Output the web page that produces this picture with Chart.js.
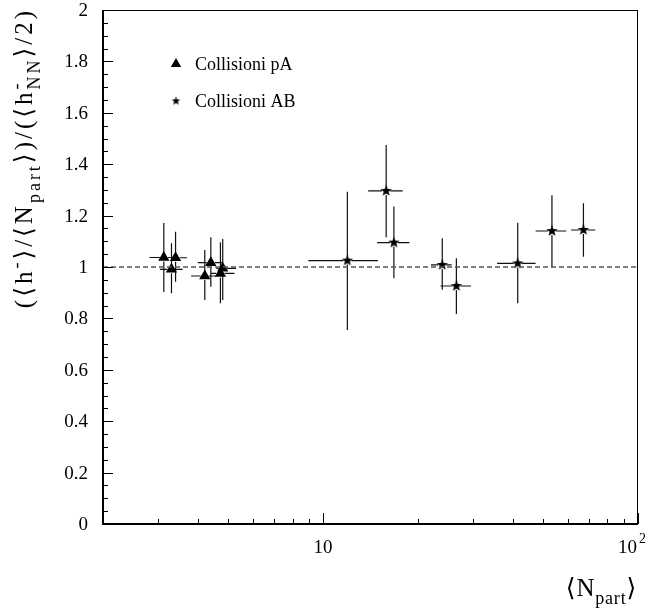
<!DOCTYPE html>
<html><head><meta charset="utf-8">
<script src="https://cdn.jsdelivr.net/npm/chart.js@4/dist/chart.umd.min.js"></script>
<style>html,body{margin:0;padding:0;background:#fff}canvas{display:block}</style>
</head><body>
<canvas id="c" width="657" height="610"></canvas>
<script>
// ---- data ----
const pA_x     = [3.12, 3.30, 3.40, 4.21, 4.40, 4.72, 4.80];
const pA_y     = [1.037, 0.991, 1.036, 0.965, 1.017, 0.975, 0.995];
const pA_yLow  = [0.903, 0.898, 0.943, 0.872, 0.923, 0.859, 0.872];
const pA_yHigh = [1.171, 1.092, 1.137, 1.066, 1.116, 1.096, 1.109];
const pA_xLow  = [2.81, 3.03, 3.29, 3.81, 4.00, 4.41, 4.58];
const pA_xHigh = [3.28, 3.58, 3.70, 4.58, 4.80, 5.23, 5.29];

const AB_x     = [11.94, 15.86, 16.78, 23.9, 26.5, 41.5, 53.3, 67.1];
const AB_y     = [1.025, 1.296, 1.095, 1.008, 0.926, 1.014, 1.140, 1.144];
const AB_yLow  = [0.755, 1.116, 0.956, 0.911, 0.817, 0.859, 0.999, 1.040];
const AB_yHigh = [1.293, 1.475, 1.235, 1.112, 1.034, 1.172, 1.279, 1.248];
const AB_xLow  = [8.98, 13.9, 14.85, 22.0, 23.6, 35.7, 47.3, 61.3];
const AB_xHigh = [14.93, 17.9, 18.8, 25.6, 29.5, 47.3, 59.2, 73.2];

const refLineX = [2, 100];
const refLineY = [1, 1];

const xMajorTicks = [10, 100];
const xMinorTicks = [3, 4, 5, 6, 7, 8, 9, 20, 30, 40, 50, 60, 70, 80, 90];
const xTickLabels = [{base: '10', sup: ''}, {base: '10', sup: '2'}];
const yMin = 0, yMax = 2, yMajorStep = 0.2, yMinorStep = 0.05;

const legendLabels = ['Collisioni pA', 'Collisioni AB'];

const SERIF = '"Liberation Serif", "DejaVu Serif", serif';

// ---- star marker ----
function makeStar(r) {
  const s = Math.ceil(r * 2 + 2);
  const cv = document.createElement('canvas');
  cv.width = s; cv.height = s;
  const g = cv.getContext('2d');
  g.translate(s / 2, s / 2);
  g.beginPath();
  for (let i = 0; i < 10; i++) {
    const rr = i % 2 === 0 ? r : r * 0.42;
    const a = -Math.PI / 2 + i * Math.PI / 5;
    const px = rr * Math.cos(a), py = rr * Math.sin(a);
    i === 0 ? g.moveTo(px, py) : g.lineTo(px, py);
  }
  g.closePath();
  g.fillStyle = '#000';
  g.fill();
  return cv;
}
const starImg = makeStar(6);
const starSmall = makeStar(4.5);

const zip = (xs, ys) => xs.map((x, i) => ({x, y: ys[i]}));

// ---- rich text ----
function drawRich(ctx, segs, x, y, align, size, spacing) {
  const small = Math.round(size * 0.72);
  const fN = size + 'px ' + SERIF, fS = small + 'px ' + SERIF;
  ctx.letterSpacing = (spacing || 0) + 'px';
  const widths = segs.map(s => {
    if (s.k === 'n') { ctx.font = fN; return ctx.measureText(s.t).width; }
    ctx.font = fS;
    if (s.k === 'both') return Math.max(ctx.measureText(s.sup).width, ctx.measureText(s.sub).width);
    return ctx.measureText(s.t).width;
  });
  const total = widths.reduce((a, b) => a + b, 0);
  let cx = align === 'right' ? x - total : (align === 'center' ? x - total / 2 : x);
  ctx.textAlign = 'left';
  ctx.textBaseline = 'alphabetic';
  segs.forEach((s, i) => {
    if (s.k === 'n') { ctx.font = fN; ctx.fillText(s.t, cx, y); }
    else if (s.k === 'sub') { ctx.font = fS; ctx.fillText(s.t, cx, y + size * 0.3); }
    else if (s.k === 'sup') { ctx.font = fS; ctx.fillText(s.t, cx, y - size * 0.42); }
    else { ctx.font = fS; ctx.fillText(s.sup, cx, y - size * 0.42); ctx.fillText(s.sub, cx, y + size * 0.3); }
    cx += widths[i];
  });
  ctx.letterSpacing = '0px';
  return total;
}

const fmtY = v => String(Math.round(v * 10) / 10);

// ---- plugin ----
const rootStyle = {
  id: 'rootStyle',
  beforeDatasetsDraw(chart) {
    const {ctx, scales: {x, y}} = chart;
    ctx.save();
    ctx.strokeStyle = '#111';
    ctx.lineWidth = 1.2;
    const gap = 4;
    const drawErr = (xs, ys, xl, xh, yl, yh) => {
      xs.forEach((v, i) => {
        const px = x.getPixelForValue(v), py = y.getPixelForValue(ys[i]);
        const l = x.getPixelForValue(xl[i]), r = x.getPixelForValue(xh[i]);
        const t = y.getPixelForValue(yh[i]), b = y.getPixelForValue(yl[i]);
        ctx.beginPath();
        if (px - gap > l) { ctx.moveTo(l, py); ctx.lineTo(px - gap, py); }
        if (r > px + gap) { ctx.moveTo(px + gap, py); ctx.lineTo(r, py); }
        if (py - gap > t) { ctx.moveTo(px, t); ctx.lineTo(px, py - gap); }
        if (b > py + gap) { ctx.moveTo(px, py + gap); ctx.lineTo(px, b); }
        ctx.stroke();
      });
    };
    drawErr(pA_x, pA_y, pA_xLow, pA_xHigh, pA_yLow, pA_yHigh);
    drawErr(AB_x, AB_y, AB_xLow, AB_xHigh, AB_yLow, AB_yHigh);
    ctx.restore();
  },
  afterDraw(chart) {
    const {ctx, chartArea: a, scales: {x, y}} = chart;
    ctx.save();
    ctx.fillStyle = '#000';
    ctx.strokeStyle = '#000';
    // frame
    ctx.lineWidth = 1;
    ctx.strokeRect(a.left + 0.5, a.top + 0.5, a.right - a.left - 1, a.bottom - a.top - 1);
    ctx.lineWidth = 2;
    ctx.beginPath();
    ctx.moveTo(a.left, a.top); ctx.lineTo(a.left, a.bottom); ctx.lineTo(a.right, a.bottom);
    ctx.stroke();
    // y ticks
    ctx.lineWidth = 1;
    ctx.beginPath();
    const nMinor = Math.round((yMax - yMin) / yMinorStep);
    for (let i = 0; i <= nMinor; i++) {
      const v = yMin + i * yMinorStep;
      const major = i % Math.round(yMajorStep / yMinorStep) === 0;
      const py = Math.round(y.getPixelForValue(v)) + 0.5;
      ctx.moveTo(a.left, py); ctx.lineTo(a.left + (major ? 10 : 5), py);
    }
    // x ticks
    xMinorTicks.forEach(v => {
      const px = Math.round(x.getPixelForValue(v)) + 0.5;
      ctx.moveTo(px, a.bottom); ctx.lineTo(px, a.bottom - 5);
    });
    xMajorTicks.forEach(v => {
      const px = Math.round(x.getPixelForValue(v)) + 0.5;
      ctx.moveTo(px, a.bottom); ctx.lineTo(px, a.bottom - 11);
    });
    ctx.stroke();
    // y tick labels
    ctx.font = '19px ' + SERIF;
    ctx.textAlign = 'right'; ctx.textBaseline = 'middle';
    y.ticks.forEach(t => {
      ctx.fillText(fmtY(t.value), a.left - 15, y.getPixelForValue(t.value) + 1);
    });
    // x tick labels
    xMajorTicks.forEach((v, i) => {
      const px = x.getPixelForValue(v);
      const lab = xTickLabels[i];
      ctx.font = '19px ' + SERIF;
      ctx.textBaseline = 'alphabetic';
      if (!lab.sup) { ctx.textAlign = 'center'; ctx.fillText(lab.base, px, a.bottom + 29); }
      else {
        ctx.textAlign = 'right'; ctx.fillText(lab.base, px - 1, a.bottom + 29);
        ctx.textAlign = 'left'; ctx.font = '14px ' + SERIF; ctx.fillText(lab.sup, px + 1, a.bottom + 19);
      }
    });
    // x title
    drawRich(ctx, [{k: 'n', t: '⟨N'}, {k: 'sub', t: 'part'}, {k: 'n', t: '⟩'}], 637, 596, 'right', 25, 0.8);
    // y title
    ctx.save();
    ctx.translate(32, 8);
    ctx.rotate(-Math.PI / 2);
    drawRich(ctx, [
      {k: 'n', t: '(⟨h'}, {k: 'sup', t: '-'}, {k: 'n', t: '⟩/⟨N'}, {k: 'sub', t: 'part'},
      {k: 'n', t: '⟩)/(⟨h'}, {k: 'both', sup: '-', sub: 'NN'}, {k: 'n', t: '⟩/2)'}
    ], 0, 0, 'right', 25, 3.0);
    ctx.restore();
    // legend
    const lx = a.left + 73, ly1 = a.top + 54, ly2 = a.top + 91;
    const tri = 6;
    ctx.beginPath();
    ctx.moveTo(lx, ly1 - tri); ctx.lineTo(lx + tri * 0.87, ly1 + tri * 0.5); ctx.lineTo(lx - tri * 0.87, ly1 + tri * 0.5);
    ctx.closePath(); ctx.fill();
    ctx.drawImage(starSmall, lx - starSmall.width / 2, ly2 - starSmall.height / 2);
    ctx.font = '18px ' + SERIF;
    ctx.textAlign = 'left'; ctx.textBaseline = 'alphabetic';
    ctx.fillText(legendLabels[0], lx + 19, ly1 + 6);
    ctx.fillText(legendLabels[1], lx + 19, ly2 + 6);
    ctx.restore();
  }
};

new Chart(document.getElementById('c'), {
  type: 'scatter',
  data: {
    datasets: [
      {label: 'y = 1', type: 'line', data: zip(refLineX, refLineY), borderColor: '#555', borderWidth: 1.5,
       borderDash: [5, 3], pointRadius: 0, fill: false},
      {label: legendLabels[0], data: zip(pA_x, pA_y), pointStyle: 'triangle', pointRadius: 6.5,
       backgroundColor: '#000', borderColor: '#000', borderWidth: 0},
      {label: legendLabels[1], data: zip(AB_x, AB_y), pointStyle: starImg, pointRadius: 6,
       backgroundColor: '#000', borderColor: '#000'}
    ]
  },
  options: {
    responsive: false, animation: false, devicePixelRatio: 1,
    layout: {padding: {top: 10, right: 19, left: 0, bottom: 0}},
    plugins: {legend: {display: false}, tooltip: {enabled: false}},
    scales: {
      x: {type: 'logarithmic', min: 2, max: 100,
          ticks: {display: false}, grid: {display: false, drawTicks: false}, border: {display: false},
          afterFit(s) { s.height = 86; }},
      y: {type: 'linear', min: yMin, max: yMax,
          ticks: {display: false, stepSize: yMajorStep},
          grid: {display: false, drawTicks: false}, border: {display: false},
          afterFit(s) { s.width = 103; }}
    }
  },
  plugins: [rootStyle]
});
</script>
</body></html>
